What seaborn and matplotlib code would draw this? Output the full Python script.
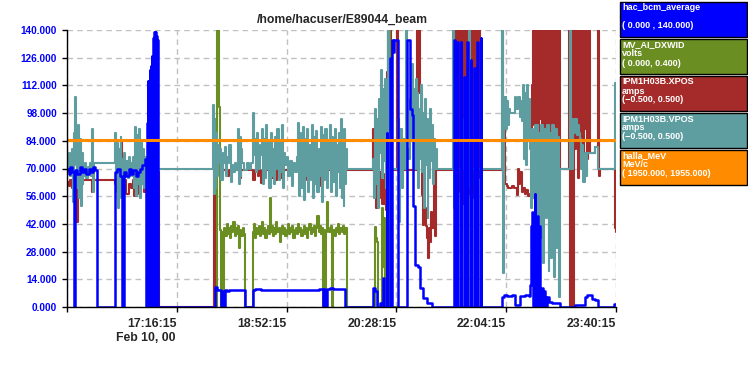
"""
Strip chart of /home/hacuser/E89044_beam (Feb 10, 00), 15:40:15 - 23:40:15.
Values are in display units of the shared 0-140 scale, times in minutes from START.
"""

import matplotlib

matplotlib.use("Agg")

import matplotlib.dates as mdates
import matplotlib.pyplot as plt
import pandas as pd
import seaborn as sns
from matplotlib.patches import Rectangle


START = pd.Timestamp("2000-02-10 15:40:15")
SPAN_MIN = 480
TICK_MIN = [0, 96, 192, 288, 384, 480]
Y_TICKS = [0, 14, 28, 42, 56, 70, 84, 98, 112, 126, 140]
TITLE = "/home/hacuser/E89044_beam"
DATE_LABEL = "Feb 10, 00"

# hac_bcm_average (blue)
BCM = [
    (0, 70), (1.5, 67), (3, 71), (4.5, 68), (6, 0), (7, 69), (9, 67), (11, 71),
    (13, 68), (15, 70), (17, 67), (19, 70), (21, 68), (23, 71), (24.5, 69),
    (26.2, 0), (42, 68), (44, 70), (46, 66), (48, 0), (49.8, 68), (52, 66),
    (54, 70), (56, 67), (58, 69), (60, 66), (62, 68), (64, 70), (66, 72),
    (68, 75), (69.5, 0),
    (70.0, 93), (70.4, 0), (70.8, 114), (71.2, 0), (71.6, 114), (72.0, 0),
    (72.4, 120), (72.8, 0), (73.2, 122), (73.6, 0), (74.0, 127), (74.4, 0),
    (74.8, 131), (75.2, 0), (75.6, 136), (76.0, 0), (76.4, 139), (76.8, 0),
    (77.2, 139), (77.6, 0), (78.0, 137), (78.4, 0), (78.8, 135), (79.6, 0),
    (129.5, 10), (131, 8.5), (135, 0), (136, 8), (137, 0), (138, 8.5),
    (140, 8), (142, 8.5), (155.6, 0), (162.6, 8.5), (164, 9), (170, 8.5),
    (180, 8.7), (190, 8.5), (200, 8.7), (210, 8.5), (220, 9), (223.8, 0),
    (225, 9), (226, 0), (227.5, 9), (230, 9.5), (233, 9), (238, 9), (243.1, 0),
    (267.5, 9.6), (269.3, 8), (271, 0), (273.7, 2), (275.4, 1), (276.3, 14.6),
    (276.9, 0), (279.6, 88), (280.2, 0), (282.6, 126), (283.2, 0),
    (284.2, 135), (285, 129), (285.9, 135),
    (289.4, 0), (297.3, 135), (300, 100), (301.4, 97), (302.8, 51),
    (304.3, 21), (307.2, 20), (308.6, 9.6), (311.5, 4.5), (314.5, 2),
    (318.8, 0),
    (338.4, 135), (338.9, 0), (341.3, 134), (341.8, 0), (344.2, 134),
    (344.7, 0), (347.1, 116), (347.6, 0), (350.0, 134), (350.5, 0),
    (352.9, 125), (353.4, 0), (355.8, 121), (356.3, 0), (358.7, 134),
    (359.2, 0), (361.6, 136), (362.1, 0),
    (380.3, 5.2), (382, 6), (385, 5.5), (389, 6), (392, 1), (396.1, 5.5),
    (400, 6), (403.5, 5.5), (404.8, 11), (405.5, 41), (406.6, 48),
    (407.5, 0), (408.8, 57), (409.6, 0), (410.8, 46), (411.6, 0),
    (412.6, 41), (413.3, 0),
    (415.3, 9.6), (416.2, 0), (417, 8), (418, 5), (419, 0), (420, 5),
    (421, 2.4), (424, 2), (431, 0), (444.1, 1), (452.9, 5), (454.6, 6.3),
    (457.3, 6), (459, 4), (462, 3.5), (464.3, 0), (478.5, 1.5), (480, 1.5),
]

# MV_AI_DXWID (green)
DXWID = [
    (131.1, 0), (131.5, 140), (133, 101), (133.8, 39), (134.5, 0),
    (135.5, 38), (136.5, 0), (137.5, 40), (138.5, 36), (139.5, 42),
    (140.5, 37), (141.5, 40), (142.5, 35), (143.5, 41), (144.5, 38),
    (145.5, 43), (146.5, 36), (147.5, 40), (148.5, 37), (149.5, 41),
    (150.5, 30), (151.5, 39), (152.5, 36), (153.5, 40), (154.5, 37),
    (155.6, 0), (162.6, 38), (163.5, 42), (164.5, 35), (165.5, 40),
    (166.5, 37), (167.5, 41), (168.5, 36), (169.5, 39), (170.5, 43),
    (171.5, 37), (172.5, 40), (173.5, 35), (174.5, 39), (175.5, 41),
    (176.5, 37), (177.5, 55), (178.2, 38), (179, 41), (180, 36), (181, 40),
    (182, 37), (183, 43), (184, 38), (185, 40), (186, 33), (187, 39),
    (188, 41), (189, 37), (190, 40), (191, 36), (192, 39), (193, 42),
    (194, 37), (195, 40), (196, 38), (197, 41), (198, 35), (199, 39),
    (200, 40), (201, 37), (202, 42), (203, 38), (204, 40), (205, 36),
    (206, 39), (207, 41), (208, 37), (209, 40), (210, 35), (211, 39),
    (212, 42), (213, 37), (214, 40), (215, 38), (216, 41), (217, 36),
    (218, 40), (219, 46), (220, 38), (221, 41), (222, 37), (223, 40),
    (223.8, 0), (225, 39), (225.8, 0), (226.5, 38), (227.5, 53), (228.2, 40),
    (229, 38), (231, 41), (232, 0), (232.8, 39), (234, 36), (235, 40),
    (236, 38), (237, 42), (238, 37), (239, 40), (240, 38), (241, 41),
    (242, 37), (243, 40), (244.8, 0), (269.3, 40.6), (270, 35), (271, 33),
    (272, 0), (275.4, 50), (276.3, 20), (277, 45), (278, 0), (281, 140),
    (282, 0), (290, 0),
]

# IPM1H03B.XPOS (brown)
XPOS = [
    (0, 63), (2, 61), (3, 64), (4.5, 60), (6, 63), (7.5, 43), (10, 63),
    (11, 64), (20, 64), (21.5, 58), (23, 64), (40, 64), (42, 62),
    (43.5, 66), (45, 60), (46, 63), (47, 83.6), (47.7, 63), (49, 58),
    (50.5, 64), (52, 57), (54, 62), (56, 60), (57.5, 64), (59, 56), (61, 62),
    (63, 57), (65, 62), (67, 58), (69, 62), (70.5, 66), (78.5, 68), (80, 0),
    (128.5, 70), (129.5, 0), (130.5, 72), (131, 69), (140, 66), (141.5, 69),
    (151, 65), (152.5, 69), (163, 64), (164, 69), (167, 66), (168, 69),
    (170, 62.6), (171, 69), (178, 65), (180, 69), (182, 64), (183.5, 69),
    (186, 65), (188, 69), (204, 65), (205.5, 69), (210, 64), (211.5, 69),
    (220, 62), (221, 65), (222.5, 61), (224, 69), (232, 66), (233.5, 69),
    (240, 61.6), (241, 69),
    (267.5, 90), (268.5, 60), (269.5, 72), (270.5, 50), (271.5, 66),
    (272.5, 55), (273.7, 68), (275, 52), (276, 64), (277, 52), (278, 67),
    (279, 49), (279.8, 119), (280.5, 140), (281.5, 110), (282.4, 140),
    (283.5, 69), (288.5, 140), (289.4, 69),
    (306, 140), (306.9, 108), (307.5, 140), (308.6, 108), (310, 56.6),
    (311, 70), (311.5, 41.5), (312.5, 50), (313.5, 41), (314.5, 35),
    (315.5, 25), (316.5, 40), (317.4, 33), (318.5, 48), (319.5, 40),
    (320.5, 68), (321.5, 36), (322.5, 69),
    (338.2, 140), (339, 55), (340, 140), (341, 60), (342.5, 140),
    (343.5, 58), (345, 140), (346, 52), (347.5, 140), (348.5, 60),
    (350, 140), (351, 57), (352.5, 140), (353.5, 55), (355, 140), (356, 60),
    (357.5, 140), (358.5, 65), (360, 140), (361.5, 69),
    (380.3, 140), (381, 63), (382, 100), (383, 62), (384.7, 61), (386, 60),
    (389, 61), (391, 60), (393.4, 56.6), (394.5, 70), (395.5, 62),
    (396.5, 68), (397.5, 58), (398.7, 60), (400, 57), (401.5, 59), (403, 56),
    (404.8, 57), (406.6, 112), (407.2, 140), (408, 92), (409, 140),
    (410, 80), (411, 140), (412, 70), (413, 140), (413.5, 95), (414.3, 140),
    (415.3, 70), (415.9, 140), (416.5, 70), (417.1, 140), (417.7, 72),
    (418.3, 140), (418.9, 70), (419.5, 140), (420.1, 75), (420.7, 140),
    (421.3, 70), (421.9, 140), (422.5, 70), (423.1, 140), (423.7, 72),
    (424.3, 140), (424.9, 70), (425.5, 140), (426.1, 70), (426.7, 140),
    (427.3, 74), (427.9, 140), (428.5, 70), (429.1, 140), (429.7, 70),
    (430.3, 140), (431, 70),
    (438.5, 140), (439.5, 0), (440.3, 140), (441, 70), (442, 140),
    (442.6, 0), (443.3, 140), (444, 80), (444.7, 140), (445.5, 93),
    (446.2, 140), (447, 65), (447.8, 140), (448.5, 72), (449.3, 140),
    (450, 85), (450.8, 140), (451.5, 70), (452.3, 140), (453, 90),
    (453.8, 140), (454.6, 75), (455.4, 140), (456, 78), (456.8, 140),
    (457.5, 78), (462, 81), (464.3, 140), (465, 66), (465.6, 70),
    (478.8, 70), (479.3, 40), (480, 38),
]

# IPM1H03B.VPOS (cadet blue)
VPOS = [
    (0, 74), (0.8, 68), (1.6, 78), (2.4, 66), (3.2, 75), (4, 70), (4.8, 80),
    (5.6, 53), (6.4, 88), (7.2, 106), (8, 72), (8.8, 60), (9.6, 92),
    (10.4, 55), (11.2, 85), (12, 51), (12.8, 78), (13.6, 62), (14.4, 72),
    (15.2, 66), (16, 73), (17, 65), (18, 71), (19, 67), (20, 73), (21, 66),
    (22, 90), (22.8, 58), (23.5, 73), (42, 88), (42.8, 58), (43.6, 83),
    (44.4, 50), (45.2, 80), (46, 63), (46.8, 86), (47.6, 55), (48.4, 75),
    (49.2, 66), (50, 78), (51, 68), (52, 74), (53, 65), (54, 76), (55, 67),
    (56, 73), (57, 66), (58, 76), (58.8, 60), (59.6, 91), (60.4, 56),
    (61.2, 87), (62, 62), (62.8, 90), (63.6, 55), (64.4, 84), (65.2, 62),
    (66, 80), (67, 60), (68, 76), (69, 64), (70, 70), (78.5, 129), (79.3, 70),
    (127.6, 102), (128.3, 57), (129, 95), (129.8, 60), (130.5, 88),
    (131.3, 66), (132, 82), (132.8, 73), (134, 80), (135, 64), (136, 78),
    (137, 73), (138, 81), (139, 66), (140, 76), (141, 73), (142, 82),
    (143, 63), (144.3, 72), (145.5, 68), (146.5, 73), (147.5, 69),
    (148.5, 72), (149.5, 90), (150.3, 62), (151, 86), (151.8, 66),
    (152.5, 80), (153, 73), (155, 69), (157, 73), (159, 70), (161, 73),
    (162.6, 98), (163.3, 77), (164, 85), (165, 68), (166, 88), (167, 77),
    (168, 70), (169, 82), (170, 77), (170.5, 90), (171.3, 62), (172, 85),
    (173, 65), (174, 92), (175, 70), (176, 84), (177, 60), (178, 88),
    (179, 66), (180, 80), (181, 62), (182, 86), (183, 70), (184, 90),
    (185, 64), (186, 84), (187, 68), (188, 92), (189, 60), (190, 78),
    (191, 72), (192.3, 76), (193.5, 66), (195, 74), (196.5, 61), (198, 73),
    (199.5, 68), (201, 76), (202, 93), (203, 56), (204, 88), (205, 60),
    (206, 91), (207, 54), (208, 85), (209, 66), (210, 90), (211, 58),
    (212, 82), (213, 64), (214, 92), (215, 55), (216, 86), (217, 62),
    (218, 89), (219, 58), (220, 80), (221, 66), (222, 91), (223, 53),
    (224, 87), (225, 64), (226, 90), (227, 60), (228, 84), (229, 70),
    (230, 92), (231, 58), (232, 86), (233, 63), (234, 90), (235, 56),
    (236, 82), (237, 68), (238, 88), (238.7, 60), (239.5, 95), (240.3, 55),
    (241, 85), (241.8, 51), (242.6, 90), (243.4, 62), (244.2, 80),
    (244.8, 70),
    (267.5, 75), (268.3, 55), (269, 80), (269.7, 100), (270.5, 62),
    (271.3, 95), (272, 50), (273, 105), (273.8, 78), (274.5, 120),
    (275.3, 65), (276, 110), (277, 74), (277.8, 115), (278.5, 60),
    (279.3, 100), (279.8, 80), (281, 140), (281.8, 41), (283, 75), (284, 70),
    (289.4, 95), (290.5, 43), (291.5, 90), (292.5, 60), (294, 85),
    (295.5, 70), (296.5, 140), (297.5, 80), (298.5, 75), (299.5, 105),
    (300.5, 85), (301.6, 123), (302.4, 90), (303.2, 110), (304, 70),
    (304.8, 115), (305.6, 80), (306.4, 108), (307.2, 60), (308, 100),
    (308.8, 75), (309.6, 112), (310.4, 68), (311.2, 98), (312, 50),
    (312.8, 105), (313.6, 72), (314.4, 95), (315.2, 45), (316, 88),
    (316.8, 65), (317.6, 100), (318.4, 74), (319.2, 92), (320, 62),
    (320.8, 85), (321.6, 70), (322.4, 80), (323.5, 70),
    (337.5, 140), (338.2, 50), (339.2, 110), (340.3, 70), (345, 95),
    (346, 70), (351.5, 140), (352.3, 60), (353.5, 100), (354.5, 70),
    (358, 85), (359, 70),
    (380.3, 140), (381, 17), (381.8, 106), (382.6, 92), (383.4, 106),
    (384.2, 90), (385, 104), (385.8, 92), (386.6, 100), (387.3, 98),
    (391.7, 106), (393, 100), (394, 106), (396.1, 96), (397, 104), (398, 94),
    (399, 112), (399.8, 75), (400.6, 108), (401.4, 72), (402.2, 112),
    (403, 85), (403.8, 105), (404.5, 80), (405.3, 50), (406.2, 90),
    (407, 55), (408, 75), (409.2, 92), (409.8, 40), (410.3, 92),
    (412.0, 20), (412.5, 88), (414.3, 35), (414.8, 92), (416.6, 22),
    (417.1, 90), (418.9, 45), (419.4, 92), (421.2, 18), (421.7, 88),
    (423.5, 25), (424.0, 92), (425.8, 15), (426.3, 90), (428.1, 30),
    (428.6, 86), (430.2, 5), (430.7, 70),
    (439.8, 140), (440.5, 70), (442.4, 95), (443.5, 88), (444.5, 95),
    (445.5, 87), (446.5, 92), (447.5, 88), (448.5, 85), (449.5, 70),
    (450.5, 82), (451.5, 63), (452.5, 78), (453.5, 66), (454.6, 78),
    (461.6, 81), (464.3, 70), (479, 113), (480, 113),
]

# halla_MeV (orange)
HALLA = [(0, 84.4), (480, 84.4)]

LEGEND_NAMES = ["hac_bcm_average", "MV_AI_DXWID", "IPM1H03B.XPOS",
                "IPM1H03B.VPOS", "halla_MeV"]
LEGEND_UNITS = ["", "volts", "amps", "amps", "MeV/c"]
LEGEND_RANGES = ["( 0.000 , 140.000)", "( 0.000, 0.400)", "(\u22120.500, 0.500)",
                 "(\u22120.500, 0.500)", "( 1950.000, 1955.000)"]
COLORS = ["#0000FF", "#6B8E23", "#A52A2A", "#5F9EA0", "#FF8C00"]

W, H = 748, 375

sns.set_theme(style="white")
plt.rcParams["font.family"] = ["Liberation Sans", "DejaVu Sans"]
plt.rcParams["font.weight"] = "bold"


def to_frame(points):
    df = pd.DataFrame(points, columns=["minutes", "value"])
    df["time"] = START + pd.to_timedelta(df["minutes"], unit="min")
    return df


def draw_series(ax):
    series = [
        (XPOS, COLORS[2], 1.5, 2.0),
        (DXWID, COLORS[1], 1.5, 2.1),
        (VPOS, COLORS[3], 1.5, 2.2),
        (BCM, COLORS[0], 1.8, 2.3),
        (HALLA, COLORS[4], 2.2, 2.4),
    ]
    for points, color, width, z in series:
        sns.lineplot(
            data=to_frame(points),
            x="time",
            y="value",
            ax=ax,
            color=color,
            linewidth=width,
            drawstyle="steps-post",
            estimator=None,
            sort=False,
            zorder=z,
        )


def style_axes(ax):
    ticks = [START + pd.Timedelta(minutes=m) for m in TICK_MIN]
    ax.set_xlim(mdates.date2num(START),
                mdates.date2num(START + pd.Timedelta(minutes=SPAN_MIN)))
    ax.set_xticks(mdates.date2num(ticks))
    ax.set_xticklabels([""] + [t.strftime("%H:%M:%S") for t in ticks[1:]],
                       ha="right", fontsize=8.8, fontweight="bold")

    ax.set_ylim(0, 140)
    ax.set_yticks(Y_TICKS)
    ax.set_yticklabels([f"{v:.3f}" for v in Y_TICKS], fontsize=7.2,
                       fontweight="bold", color="#0000FF")

    ax.set_xlabel("")
    ax.set_ylabel("")
    ax.grid(True, color="#c0c0c0", linestyle=(0, (4, 3)), linewidth=1)
    ax.set_axisbelow(True)

    for side in ["top", "right"]:
        ax.spines[side].set_visible(False)
    for side in ["left", "bottom"]:
        ax.spines[side].set_color("black")
        ax.spines[side].set_linewidth(1)

    ax.tick_params(axis="y", direction="out", length=3.6, width=1,
                   color="black", pad=3.6, left=True)
    ax.tick_params(axis="x", direction="out", length=3.6, width=1,
                   color="black", pad=4.0, bottom=True)


def draw_legend(fig):
    for i, color in enumerate(COLORS):
        top = 2 + 37 * i
        fig.patches.append(
            Rectangle((620 / W, 1 - (top + 35) / H), 127 / W, 35 / H,
                      transform=fig.transFigure, facecolor=color,
                      edgecolor="black", linewidth=1)
        )
        lines = [LEGEND_NAMES[i], LEGEND_UNITS[i], LEGEND_RANGES[i]]
        for j, text in enumerate(lines):
            fig.text(622 / W, 1 - (top + 6 + 9 * j) / H, text, color="white",
                     fontsize=6.5, fontweight="bold", va="center", ha="left")


def main():
    fig = plt.figure(figsize=(W / 100, H / 100), dpi=100)
    fig.patch.set_facecolor("white")
    ax = fig.add_axes([67 / W, 1 - 307 / H, 549 / W, 277 / H])

    draw_series(ax)
    style_axes(ax)

    fig.text(342 / W, 1 - 20 / H, TITLE, ha="center", va="center",
             fontsize=8.8, fontweight="bold")
    fig.text(176 / W, 1 - 338 / H, DATE_LABEL, ha="right", va="center",
             fontsize=8.8, fontweight="bold")
    draw_legend(fig)

    fig.savefig("out.png", dpi=100, facecolor="white")
    plt.close(fig)


if __name__ == "__main__":
    main()
